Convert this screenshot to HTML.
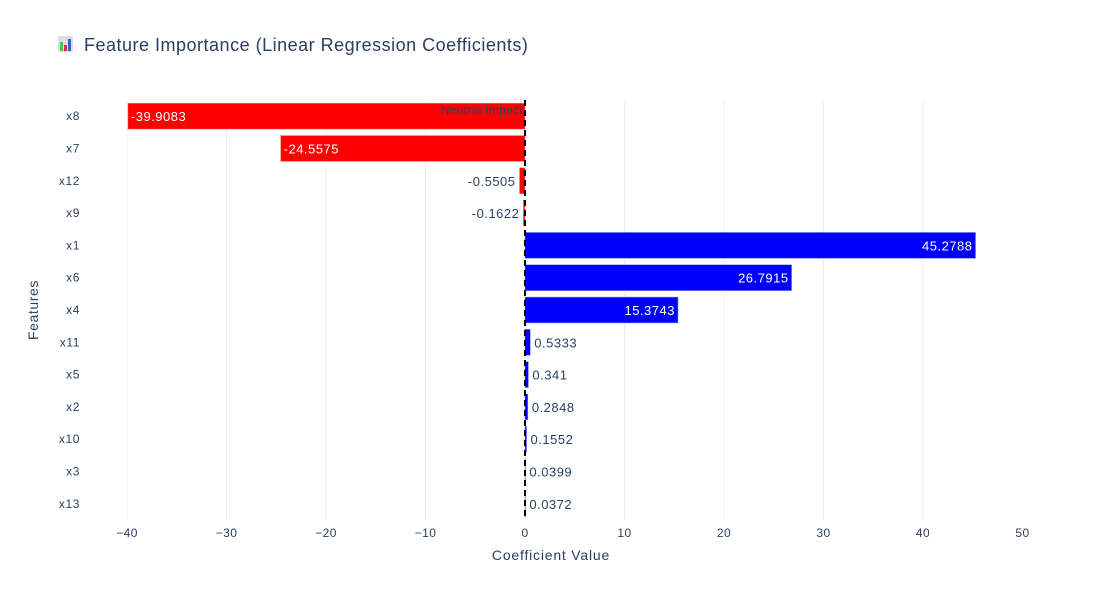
<!DOCTYPE html>
<html><head><meta charset="utf-8"><style>
body{margin:0;background:#fff;width:1103px;height:600px;overflow:hidden;font-family:"Liberation Sans","Noto Sans CJK SC",sans-serif}
</style></head><body>
<svg id="chart" width="1103" height="600" xmlns="http://www.w3.org/2000/svg" font-family="Liberation Sans, sans-serif">
<rect width="1103" height="600" fill="#fff"/>
<g>
<rect x="58" y="36" width="15" height="16" rx="2" fill="#ddd"/>
<rect x="60" y="42" width="3" height="9" fill="#4c4"/>
<rect x="64" y="45" width="3" height="6" fill="#e24"/>
<rect x="68" y="39" width="3" height="12" fill="#36c"/>
<text x="84" y="51" font-size="18" letter-spacing="0.5" fill="#2a3f5f">Feature Importance (Linear Regression Coefficients)</text>
</g>
<g id="grid"></g><g id="bars"></g><g id="labels"></g><g id="axes"></g>
</svg>
<script>
const features = ["x8","x7","x12","x9","x1","x6","x4","x11","x5","x2","x10","x3","x13"];
const coefficients = [-39.9083,-24.5575,-0.5505,-0.1622,45.2788,26.7915,15.3743,0.5333,0.341,0.2848,0.1552,0.0399,0.0372];
const valueLabels = ["-39.9083","-24.5575","-0.5505","-0.1622","45.2788","26.7915","15.3743","0.5333","0.341","0.2848","0.1552","0.0399","0.0372"];
const xTicks = [-40,-30,-20,-10,0,10,20,30,40,50];
const xTickLabels = ["−40","−30","−20","−10","0","10","20","30","40","50"];

const NS="http://www.w3.org/2000/svg";
const L=87,R=1022.5,T=100,B=520;
const x=v=>525+(v)*9.95;
const band=(B-T)/features.length;
const y=i=>T+band*(i+0.5);
function mk(tag,attrs,parent){const e=document.createElementNS(NS,tag);for(const k in attrs)e.setAttribute(k,attrs[k]);document.getElementById(parent).appendChild(e);return e;}

xTicks.forEach((t,i)=>{
  if(t!==0&&t!==50){const g=mk('line',{x1:x(t),x2:x(t),y1:T,y2:B,stroke:'#ebf0f8','stroke-width':1},'grid');
  
  }
  const tl=mk('text',{x:x(t),y:B+17,'font-size':12,'letter-spacing':0.4,fill:'#2a3f5f','text-anchor':'middle'},'axes');
  tl.textContent=xTickLabels[i];
  
  
});
features.forEach((f,i)=>{
  const v=coefficients[i];
  const h=band*0.8;
  const x0=Math.min(x(0),x(v)),w=Math.max(Math.abs(x(v)-x(0)),0.5);
  const r=mk('rect',{x:x0,y:y(i)-h/2,width:w,height:h,fill:v<0?'#ff0000':'#0000ff',stroke:v<0?'#ff8080':'#8080ff','stroke-width':0.5},'bars');
  
  
  const yl=mk('text',{x:80,y:y(i)+4,'font-size':12,'letter-spacing':0.6,fill:'#2a3f5f','text-anchor':'end'},'axes');
  yl.textContent=f;
  
  
  const inside=w>60;
  let tx,anchor,col;
  if(inside){col='#fff';if(v<0){tx=x(v)+3;anchor='start';}else{tx=x(v)-3;anchor='end';}}
  else{col='#2a3f5f';if(v<0){tx=x(v)-4;anchor='end';}else{tx=x(v)+4;anchor='start';}}
  const vl=mk('text',{x:tx,y:y(i)+5,'font-size':13,'letter-spacing':0.5,fill:col,'text-anchor':anchor},'labels');
  vl.textContent=valueLabels[i];
  
  
});
const zl=mk('line',{x1:x(0),x2:x(0),y1:T,y2:B,stroke:'#000','stroke-width':2,'stroke-dasharray':'6,4'},'labels');


const nt=mk('text',{x:x(0)-2,y:T+14,'font-size':12,'letter-spacing':0.3,fill:'#2a3f5f','text-anchor':'end'},'labels');
nt.textContent='Neutral Impact';


const xt=mk('text',{x:551,y:560,'font-size':14,'letter-spacing':0.8,fill:'#2a3f5f','text-anchor':'middle'},'axes');
xt.textContent='Coefficient Value';


const yt=mk('text',{x:0,y:0,'font-size':14,'letter-spacing':0.6,fill:'#2a3f5f','text-anchor':'middle',transform:'translate(38,310) rotate(-90)'},'axes');
yt.textContent='Features';


</script>
</body></html>
